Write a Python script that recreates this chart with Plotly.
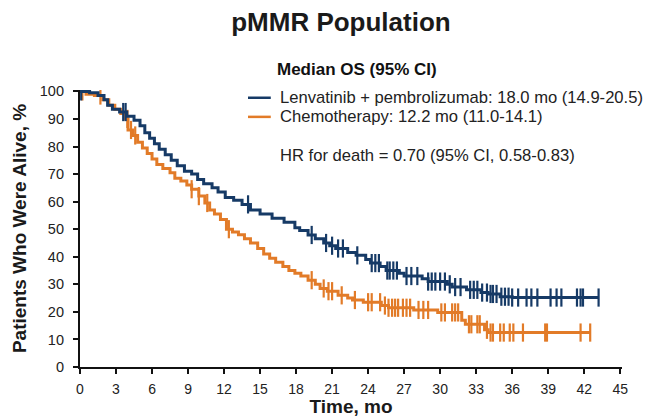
import numpy as np
import plotly.graph_objects as go

# ---------------- data ----------------
title_text = "pMMR Population"
x_title = "Time, mo"
y_title = "Patients Who Were Alive, %"
legend_header = "Median OS (95% CI)"
arm_names = ["Lenvatinib + pembrolizumab: 18.0 mo (14.9-20.5)",
             "Chemotherapy: 12.2 mo (11.0-14.1)"]
hr_text = "HR for death = 0.70 (95% CI, 0.58-0.83)"

x_ticks = list(range(0, 46, 3))
y_ticks = list(range(0, 101, 10))

# Lenvatinib + pembrolizumab: step times and survival (%)
lp_time = [0, 0.8, 1.5, 2.0, 2.3, 2.7, 3.3, 3.9, 4.5, 5.0, 5.4, 5.8, 6.2, 6.6,
           7.1, 7.6, 8.1, 8.7, 9.3, 9.8, 10.3, 11.0, 11.5, 12.1, 12.8, 13.5,
           14.2, 15.0, 16.0, 17.0, 17.9, 18.3, 19.0, 19.6, 20.3, 20.8, 21.3,
           22.3, 23.0, 23.8, 24.2, 25.0, 25.5, 26.6, 27.0, 28.5, 29.0, 30.6,
           31.0, 32.2, 33.4, 34.0, 35.0, 36.0, 43.2]
lp_surv = [100, 99.5, 98.5, 97, 95, 93.5, 92.5, 91, 89.5, 87.5, 85, 83, 81,
           79, 77, 75, 73, 71, 70, 68, 66.5, 65, 63.5, 61.5, 60.5, 59, 57,
           55.5, 54, 52.5, 50.5, 49.5, 47.9, 46.5, 45, 44, 43, 41.5, 40.5, 39,
           37.7, 36.5, 35, 34, 33, 32, 31, 30, 29, 28, 27, 26.5, 25.5, 25.2, 25.2]
lp_censor = [0.1, 3.6, 3.8, 14.0, 19.3, 20.5, 21.0, 21.5, 21.9, 23.1, 24.3,
             24.6, 24.9, 25.6, 25.8, 26.1, 26.4, 27.2, 27.6, 28.1, 29.0, 29.3,
             29.6, 30.0, 30.4, 30.8, 31.25, 31.7, 32.5, 32.8, 33.1, 33.5, 33.9,
             34.2, 34.4, 34.7, 35.1, 35.4, 35.7, 36.0, 36.5, 37.2, 37.6, 38.1,
             39.2, 39.7, 40.1, 41.4, 41.7, 41.9, 43.2]

# Chemotherapy: step times and survival (%)
ch_time = [0, 0.5, 1.2, 1.9, 2.4, 2.9, 3.4, 3.8, 4.0, 4.4, 4.8, 5.2, 5.6, 6.0,
           6.4, 6.9, 7.5, 7.9, 8.4, 8.9, 9.3, 9.9, 10.4, 10.8, 11.2, 11.7,
           12.2, 12.7, 13.2, 13.7, 14.2, 14.8, 15.3, 15.8, 16.3, 16.9, 17.4,
           17.9, 18.4, 19.0, 19.6, 20.0, 20.6, 21.5, 22.3, 22.7, 23.6, 25.1,
           25.7, 27.8, 29.8, 31.8, 32.1, 33.7, 34.0, 42.5]
ch_surv = [100, 99, 98.5, 97, 95, 93.5, 92, 90, 86, 84, 81.5, 79.5, 77.5, 75.5,
           73.5, 72, 70.5, 68.5, 67.5, 66, 64.5, 62, 59.5, 57, 55.5, 53.5, 50, 49,
           48, 46.5, 45, 43, 41, 39.5, 38, 36.5, 35, 34, 33, 31.5, 30, 28.5,
           27.5, 26, 25, 24.3, 23.5, 22.3, 21.5, 20.7, 19.8, 17, 15.5, 13.5,
           12.5, 12.5]
ch_censor = [0.2, 1.7, 3.95, 4.25, 4.6, 9.3, 9.9, 10.6, 12.4, 19.3, 20.3,
             20.7, 21.0, 21.8, 22.9, 24.0, 24.3, 25.0, 25.4, 25.7, 26.0, 26.25,
             26.5, 26.9, 27.2, 27.5, 28.2, 28.6, 29.0, 30.1, 30.4, 31.0, 31.25,
             31.5, 32.4, 32.6, 33.1, 33.3, 33.9, 34.2, 34.4, 35.0, 35.3, 35.8,
             36.1, 36.9, 38.75, 38.9, 41.7, 42.5]

lp_color = "#163a66"
ch_color = "#e27b28"


def step_value(times, surv, t):
    idx = np.searchsorted(np.asarray(times), t, side="right") - 1
    return np.asarray(surv)[np.clip(idx, 0, len(surv) - 1)]


fig = go.Figure()
for times, surv, cens, col in [(ch_time, ch_surv, ch_censor, ch_color),
                                (lp_time, lp_surv, lp_censor, lp_color)]:
    fig.add_trace(go.Scatter(x=times, y=surv, mode="lines",
                             line=dict(color=col, width=3, shape="hv"),
                             showlegend=False, hoverinfo="skip"))
    fig.add_trace(go.Scatter(x=cens, y=step_value(times, surv, cens),
                             mode="markers",
                             marker=dict(symbol="line-ns", size=13,
                                         line=dict(color=col, width=2.2)),
                             showlegend=False, hoverinfo="skip"))

font_family = "Liberation Sans, Arial, sans-serif"
txt = "#1a1a1a"

# the page body adds an 8px offset, so the figure is placed at (8, 8)
fig.update_layout(
    width=644, height=409,
    margin=dict(l=72, r=30, t=82, b=50),
    paper_bgcolor="white", plot_bgcolor="white",
    font=dict(family=font_family, color=txt),
    title=dict(text="<b>%s</b>" % title_text, x=0.517, xanchor="center",
               y=0.966, yanchor="middle",
               font=dict(size=26, color=txt, family=font_family)),
    xaxis=dict(range=[0, 45.15], tickvals=x_ticks, ticks="outside",
               ticklen=5, tickwidth=2, tickcolor="#111111",
               ticklabelstandoff=3, automargin=False,
               showline=True, linewidth=2.2, linecolor="#111111",
               showgrid=False, zeroline=False,
               tickfont=dict(size=14, color="#222222"),
               title=dict(text="<b>%s</b>" % x_title, standoff=13,
                          font=dict(size=19, color=txt))),
    yaxis=dict(range=[0, 100.5], tickvals=y_ticks, ticks="outside",
               ticklen=5, tickwidth=2, tickcolor="#111111",
               ticklabelstandoff=6, automargin=False,
               showline=True, linewidth=2.2, linecolor="#111111",
               showgrid=False, zeroline=False,
               tickfont=dict(size=14.5, color="#222222"),
               title=dict(text="<b>%s</b>" % y_title, standoff=8,
                          font=dict(size=19, color=txt))),
)

# custom legend block
fig.add_annotation(xref="paper", yref="paper", x=0.36, y=1.074,
                   xanchor="left", yanchor="middle", showarrow=False,
                   text="<b>%s</b>" % legend_header,
                   font=dict(size=17, color="#111111"))
for i, (name, col) in enumerate(zip(arm_names, [lp_color, ch_color])):
    ypos = 0.972 - i * 0.069
    fig.add_shape(type="line", xref="paper", yref="paper",
                  x0=0.31, x1=0.352, y0=ypos, y1=ypos,
                  line=dict(color=col, width=2.5))
    fig.add_annotation(xref="paper", yref="paper", x=0.366, y=ypos,
                       xanchor="left", yanchor="middle", showarrow=False,
                       text=name, font=dict(size=16.6, color="#222222"))
fig.add_annotation(xref="paper", yref="paper", x=0.366, y=0.765,
                   xanchor="left", yanchor="middle", showarrow=False,
                   text=hr_text, font=dict(size=16.6, color="#222222"))

fig.write_html("out.html")
